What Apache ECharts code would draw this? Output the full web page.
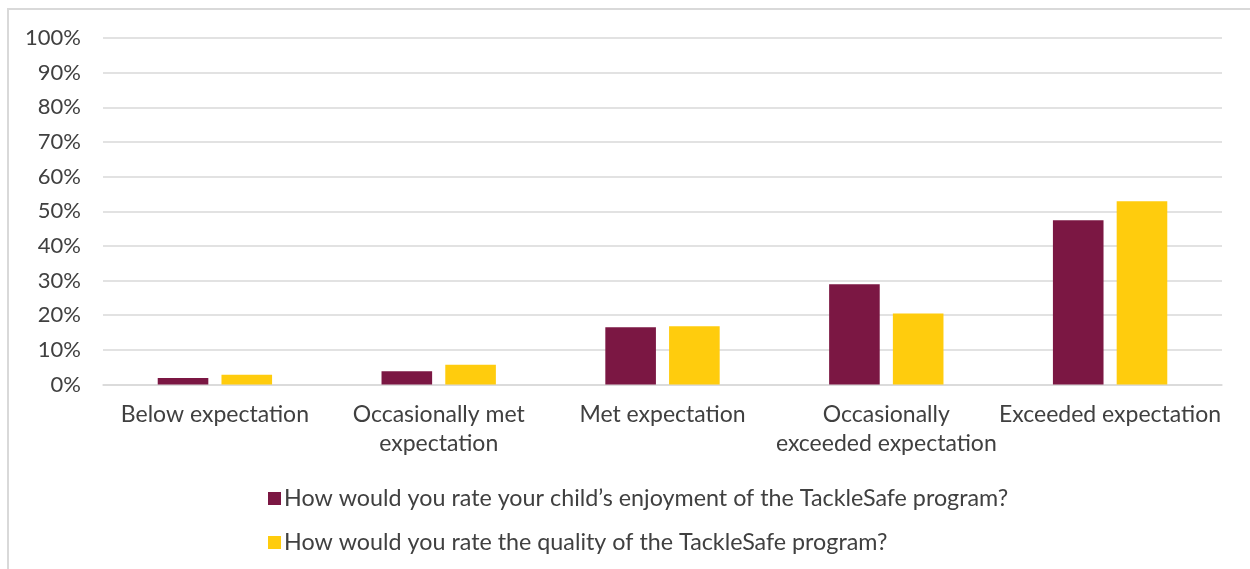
<!DOCTYPE html>
<html>
<head>
<meta charset="utf-8">
<script src="https://cdn.jsdelivr.net/npm/echarts@6/dist/echarts.min.js"></script>
<style>
  html, body { margin: 0; padding: 0; background: #fff; }
  #frame { position: absolute; left: 7px; top: 8px; width: 1260px; height: 580px;
           border-left: 2px solid #d9d9d9; border-top: 2px solid #d9d9d9; }
  #chart { position: absolute; left: 0; top: 0; width: 1250px; height: 569px; }
</style>
</head>
<body>
<div id="frame"></div>
<div id="chart"></div>
<script>
// Rating categories (line breaks as shown under the axis)
const categories = [
  'Below expectation',
  'Occasionally met\nexpectation',
  'Met expectation',
  'Occasionally\nexceeded expectation',
  'Exceeded expectation'
];

const seriesNames = [
  'How would you rate your child\u2019s enjoyment of the TackleSafe program?',
  'How would you rate the quality of the TackleSafe program?'
];

// Share of responses, in percent
const enjoyment = [1.9, 3.8, 16.5, 28.9, 47.4];
const quality   = [2.8, 5.7, 16.8, 20.5, 52.9];

const FONT = 'Lato, "Liberation Sans", sans-serif';

const chart = echarts.init(document.getElementById('chart'), null, { renderer: 'canvas' });

chart.setOption({
  backgroundColor: 'transparent',
  animation: false,
  grid: { left: 103, right: 28, top: 38, bottom: 184.5, containLabel: false },
  legend: {
    orient: 'vertical',
    left: 263,
    top: 482,
    itemWidth: 13,
    itemHeight: 13,
    itemGap: 21,
    icon: 'rect',
    textStyle: { fontFamily: FONT, fontSize: 23.3, color: '#404040', lineHeight: 23, padding: [0, 0, 0, -2] },
    data: seriesNames
  },
  xAxis: {
    type: 'category',
    data: categories,
    axisLine: { show: true, lineStyle: { color: '#d9d9d9', width: 1.5 } },
    axisTick: { show: false },
    axisLabel: {
      interval: 0,
      margin: 16,
      fontFamily: FONT,
      fontSize: 23,
      lineHeight: 29,
      color: '#404040'
    }
  },
  yAxis: {
    type: 'value',
    min: 0,
    max: 100,
    interval: 10,
    axisLine: { show: false },
    axisTick: { show: false },
    splitLine: { lineStyle: { color: '#d9d9d9', width: 1.5 } },
    axisLabel: {
      margin: 22,
      fontFamily: FONT,
      fontSize: 22,
      color: '#404040',
      formatter: v => v + '%'
    }
  },
  series: [
    {
      name: seriesNames[0],
      type: 'bar',
      data: enjoyment,
      barWidth: 50.6,
      barGap: '26%',
      itemStyle: { color: '#7b1743' }
    },
    {
      name: seriesNames[1],
      type: 'bar',
      data: quality,
      barWidth: 50.6,
      barGap: '26%',
      itemStyle: { color: '#ffcc0d' }
    }
  ]
});
</script>
</body>
</html>
